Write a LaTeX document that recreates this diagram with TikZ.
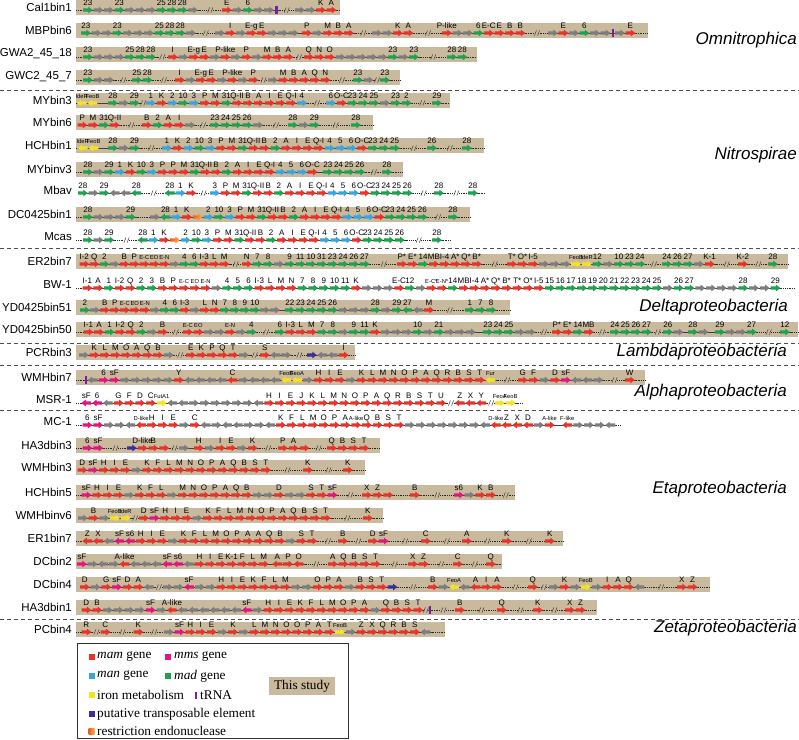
\documentclass[tikz,border=0pt]{standalone}
\usepackage{fontspec}
\setmainfont{Liberation Serif}
\setsansfont{Liberation Sans}
\definecolor{mamred}{HTML}{E8332A}
\definecolor{mmspink}{HTML}{E5157F}
\definecolor{manblue}{HTML}{3AA5DD}
\definecolor{madgreen}{HTML}{1FA150}
\definecolor{othgray}{HTML}{7D7D7D}
\definecolor{ironyel}{HTML}{F7E31B}
\definecolor{trnapur}{HTML}{7B1FA2}
\definecolor{tpblue}{HTML}{3B2E96}
\definecolor{resA}{HTML}{F05A22}
\definecolor{resB}{HTML}{FBB03B}
\definecolor{tanbg}{HTML}{C9B99D}
\tikzset{
 gmam/.style={fill=mamred}, gmms/.style={fill=mmspink}, gman/.style={fill=manblue},
 gmad/.style={fill=madgreen}, goth/.style={fill=othgray}, giron/.style={fill=ironyel},
 gtpe/.style={fill=tpblue}, gres/.style={left color=resA,right color=resB},
 gline/.style={draw=black!75,line width=0.4pt},
 gdots/.style={draw=black!85,line width=0.6pt,dash pattern=on 0.9pt off 0.9pt},
 slashmark/.style={draw=black!75,line width=0.5pt},
 glab/.style={anchor=base,inner sep=0pt,font=\sffamily\fontsize{8}{8.5}\selectfont},
 rowname/.style={anchor=east,inner sep=0pt,font=\sffamily\fontsize{11.5}{13}\selectfont},
 grp/.style={anchor=east,inner sep=0pt,font=\sffamily\itshape\fontsize{17}{20}\selectfont},
 sepline/.style={draw=black!70,line width=0.8pt,dash pattern=on 4pt off 3pt},
 legt/.style={anchor=west,inner sep=0pt,font=\fontsize{13.3}{15}\selectfont},
}
\newcount\gcnt
\xdef\curx{0}\xdef\cury{0}\xdef\gpitch{10.7}
\newcommand\sm{\fontsize{5.8}{6}\selectfont}
\newcommand\gset[3]{\xdef\cury{#1}\xdef\curx{#2}\xdef\gpitch{#3}}
\newcommand\gbar[4]{\fill[tanbg] (#2,#1-10.5) rectangle (#3,#1+4.5);\gname{#1}{#4}}
\newcommand\gname[2]{\global\advance\gcnt by 1\relax\node[rowname] (rn\the\gcnt) at (72,#1-3) {#2};}
\newcommand\ggene[3]{%
 \draw[gline] (\curx,\cury) -- ++(\gpitch,0);
 \path[#1,shift={(\curx+4.75,\cury)},xscale=#2] (-4.75,-1.6) -- (0.6,-1.6) -- (0.6,-3.4) -- (4.9,0) -- (0.6,3.4) -- (0.6,1.6) -- (-4.75,1.6) -- cycle;
 \ifx\relax#3\relax\else\global\advance\gcnt by 1\relax\node[glab] (g\the\gcnt) at (\curx+4.75,\cury-4.7) {#3};\fi
 \pgfmathsetmacro\gtmp{\curx+\gpitch}\xdef\curx{\gtmp}}
\newcommand\gR[1]{\ggene{gmam}{1}{#1}}
\newcommand\gRl[1]{\ggene{gmam}{-1}{#1}}
\newcommand\gG[1]{\ggene{gmad}{1}{#1}}
\newcommand\gGl[1]{\ggene{gmad}{-1}{#1}}
\newcommand\gB[1]{\ggene{gman}{1}{#1}}
\newcommand\gM[1]{\ggene{gmms}{1}{#1}}
\newcommand\gMl[1]{\ggene{gmms}{-1}{#1}}
\newcommand\gY[1]{\ggene{giron}{1}{#1}}
\newcommand\gYl[1]{\ggene{giron}{-1}{#1}}
\newcommand\gO[1]{\ggene{gres}{1}{#1}}
\newcommand\gT[1]{\ggene{gtpe}{1}{#1}}
\newcommand\gX{\ggene{goth}{1}{}}
\newcommand\gXl{\ggene{goth}{-1}{}}
\newcommand\gat[1]{\draw[gline] (\curx,\cury) -- (#1,\cury);\xdef\curx{#1}}
\newcommand\gdt[1]{\draw[gdots] (\curx,\cury) -- (#1,\cury);\xdef\curx{#1}}
\newcommand\gtr{\draw[gline] (\curx,\cury) -- ++(4,0);\fill[trnapur] (\curx+0.7,\cury-3.6) rectangle (\curx+3.2,\cury+3.6);\pgfmathsetmacro\gtmp{\curx+4}\xdef\curx{\gtmp}}
\newcommand\gbrk[1]{%
 \pgfmathsetmacro\bmid{(\curx+#1)/2}%
 \draw[gdots] (\curx,\cury) -- (\bmid-2.6,\cury);
 \draw[gdots] (\bmid+2.6,\cury) -- (#1,\cury);
 \draw[slashmark] (\bmid-2.6,\cury+2.6) -- (\bmid-0.6,\cury-2.6) (\bmid+0.6,\cury+2.6) -- (\bmid+2.6,\cury-2.6);
 \xdef\curx{#1}}
\begin{document}
\begin{tikzpicture}[x=1pt,y=-1pt]
\useasboundingbox (0,0) rectangle (799,739);
\fill[white] (0,0) rectangle (799,739);
% separators
\foreach \yy in {90,248,343,365,410,619} \draw[sepline] (0,\yy) -- (799,\yy);
% group labels
\node[grp] (gOmni) at (797,40) {Omnitrophica};
\node[grp] (gNitro) at (797,155) {Nitrospirae};
\node[grp] (gDelta) at (788,307) {Deltaproteobacteria};
\node[grp] (gLambda) at (787,352) {Lambdaproteobacteria};
\node[grp] (gAlpha) at (787,392) {Alphaproteobacteria};
\node[grp] (gEta) at (787,489) {Etaproteobacteria};
\node[grp] (gZeta) at (797,628) {Zetaproteobacteria};
% Row 1
\gbar{10}{76}{340}{Cal1bin1}
\gset{10}{76}{10.5}\gdt{83}\gG{23}\gX\gX\gG{23}\gX\gX\gX\gG{25}\gG{28}\gG{28}\gX\gbrk{222}\gR{E}\gX\gG{6}\gX\gX\gtr\gbrk{295}\gX\gX\gR{K}\gR{A}\gdt{340}
% Row 2
\gbar{33}{76}{648}{MBPbin6}
\gset{33}{81}{10.5}\gG{23}\gX\gX\gG{23}\gX\gX\gX\gG{25}\gG{28}\gG{28}\gX\gbrk{215}\gX\gR{I}\gX\gR{E-g}\gR{E}\gX\gX\gX\gat{302}\gR{P}\gX\gR{M}\gR{B}\gR{A}\gbrk{372}\gX\gX\gR{K}\gR{A}\gbrk{442}\gR{P-like}\gX\gX\gG{6}\gR{E-C}\gR{E}\gR{B}\gR{B}\gbrk{548}\gX\gR{E}\gX\gG{6}\gX\gX\gtr\gX\gR{E}\gdt{648}
% Row 3
\gbar{57}{76}{477}{GWA2\_45\_18}
\gset{57}{76}{10.5}\gdt{83}\gG{23}\gX\gX\gX\gG{25}\gG{28}\gG{28}\gbrk{168}\gR{I}\gX\gR{E-g}\gR{E}\gX\gR{P-like}\gX\gR{P}\gX\gR{M}\gR{B}\gR{A}\gbrk{304}\gR{Q}\gR{N}\gR{O}\gX\gX\gX\gX\gX\gG{23}\gX\gG{23}\gbrk{447}\gG{28}\gG{28}\gdt{477}
% Row 4
\gbar{80}{76}{400}{GWC2\_45\_7}
\gset{80}{76}{10.5}\gdt{83}\gG{23}\gX\gX\gbrk{132}\gG{25}\gG{28}\gbrk{175}\gR{I}\gX\gR{E-g}\gR{E}\gX\gR{P-like}\gX\gR{P}\gbrk{268}\gX\gR{M}\gR{B}\gR{A}\gR{Q}\gR{N}\gbrk{353}\gG{23}\gX\gbrk{380}\gG{23}\gdt{400}
% Row 5
\gbar{103}{76}{450}{MYbin3}
\gset{103}{76}{10.8}\gdt{77}\gYl{\sm IdeR}\gYl{\sm FeoB}\gat{108}\gG{28}\gX\gG{29}\gbrk{146}\gB{1}\gR{K}\gB{2}\gG{10}\gB{3}\gR{P}\gR{M}\gG{31}\gR{Q-II}\gR{B}\gR{A}\gR{I}\gR{E}\gR{Q-I}\gB{4}\gbrk{326}\gB{6}\gR{O-C}\gG{23}\gG{24}\gG{25}\gX\gG{23}\gG{2}\gbrk{432}\gG{29}\gdt{450}
% Row 6
\gbar{125}{76}{373}{MYbin6}
\gset{125}{77.5}{10.8}\gR{P}\gR{M}\gG{31}\gR{Q-II}\gbrk{142}\gR{B}\gG{2}\gR{A}\gR{I}\gX\gbrk{210}\gG{23}\gG{24}\gG{25}\gG{26}\gX\gbrk{288}\gG{28}\gX\gG{29}\gbrk{351}\gG{28}\gdt{373}
% Row 7
\gbar{148}{76}{484}{HCHbin1}
\gset{148}{76}{10.85}\gdt{78}\gYl{\sm IdeR}\gYl{\sm FeoB}\gat{108}\gG{28}\gX\gG{29}\gbrk{162}\gB{1}\gR{K}\gB{2}\gG{10}\gB{3}\gR{P}\gR{M}\gG{31}\gR{Q-II}\gR{B}\gG{2}\gR{A}\gR{I}\gR{E}\gR{Q-I}\gB{4}\gB{5}\gB{6}\gR{O-C}\gG{23}\gG{24}\gG{25}\gbrk{427}\gG{26}\gbrk{462}\gG{28}\gdt{484}
% Row 8
\gbar{172}{76}{403}{MYbinv3}
\gset{172}{76}{10.7}\gdt{83}\gG{28}\gX\gG{29}\gB{1}\gR{K}\gG{10}\gB{3}\gR{P}\gR{P}\gR{M}\gG{31}\gR{Q-II}\gR{B}\gG{2}\gR{A}\gR{I}\gR{E}\gR{Q-I}\gB{4}\gB{5}\gB{6}\gR{O-C}\gat{323}\gG{23}\gG{24}\gG{25}\gG{26}\gbrk{382}\gG{28}\gdt{403}
% Row 9
\gname{193}{Mbav}
\gset{193}{78}{10.7}\gG{28}\gX\gG{29}\gXl\gXl\gGl{28}\gbrk{165}\gGl{28}\gB{1}\gR{K}\gbrk{210}\gB{3}\gR{P}\gR{M}\gG{31}\gR{Q-II}\gR{B}\gG{2}\gR{A}\gR{I}\gR{E}\gR{Q-I}\gB{4}\gB{5}\gB{6}\gR{O-C}\gG{23}\gG{24}\gG{25}\gG{26}\gbrk{434}\gG{28}\gbrk{468}\gG{28}\gdt{485}
% Row 10
\gbar{217}{76}{470}{DC0425bin1}
\gset{217}{76}{10.7}\gdt{83}\gG{28}\gX\gX\gX\gG{29}\gdt{150}\gX\gGl{28}\gB{1}\gR{K}\gO{}\gB{2}\gG{10}\gB{3}\gR{P}\gR{M}\gG{31}\gR{Q-II}\gR{B}\gG{2}\gR{A}\gR{I}\gR{E}\gR{Q-I}\gB{4}\gB{5}\gB{6}\gR{O-C}\gG{23}\gG{24}\gG{25}\gG{26}\gbrk{448}\gG{28}\gdt{470}
% Row 11
\gname{240}{Mcas}
\gset{240}{76}{10.7}\gdt{83}\gG{28}\gX\gG{29}\gbrk{138}\gGl{28}\gB{1}\gR{K}\gO{}\gB{2}\gG{10}\gB{3}\gR{P}\gR{M}\gG{31}\gR{Q-II}\gR{B}\gG{2}\gR{A}\gR{I}\gR{E}\gR{Q-I}\gB{4}\gB{5}\gB{6}\gR{O-C}\gG{23}\gG{24}\gG{25}\gG{26}\gbrk{432}\gG{28}\gdt{450}
% Row 12
\gbar{264}{76}{788}{ER2bin7}
\gset{264}{79.5}{10}\gR{I-2}\gR{Q}\gG{2}\gX\gR{B}\gR{P}\gR{\sm E-C}\gR{\sm EO}\gR{\sm E-N}\gX\gG{4}\gG{6}\gR{I-3}\gR{L}\gR{M}\gbrk{242}\xdef\gpitch{10.7}\gR{N}\gG{7}\gG{8}\gX\gG{9}\gG{11}\gG{10}\gG{31}\gG{23}\gG{24}\gG{26}\gG{27}\gbrk{397}\gR{P*}\gR{E*}\gG{14}\gR{MB}\gR{I-4}\gR{A*}\gR{Q*}\gR{B*}\gbrk{507}\gR{T*}\gR{O*}\gR{I-5}\gX\gX\gX\gY{\sm FeoB}\gY{\sm IdeR}\gG{12}\gX\gG{10}\gG{23}\gG{24}\gbrk{662}\gG{24}\gG{26}\gG{27}\gX\gR{K-1}\gbrk{738}\gR{K-2}\gbrk{768}\gG{28}\gdt{788}
% Row 13
\gname{288}{BW-1}
\gset{288}{76}{10.75}\gdt{82.6}\gR{I-1}\gR{A}\gG{1}\gR{I-2}\gR{Q}\gG{2}\gG{3}\gR{B}\gR{P}\gR{\sm E-C}\gR{\sm EO}\gR{\sm E-N}\gX\gG{4}\gG{5}\gG{6}\gR{I-3}\gR{L}\gR{M}\gR{N}\gG{7}\gG{8}\gG{9}\gG{10}\gG{11}\gR{K}\gX\gX\gX\gR{E-C}\gG{12}\gX\gR{\sm E-C*}\gR{\sm E-N*}\gG{14}\gR{MB}\gR{I-4}\gR{A*}\gR{Q*}\gR{B*}\gR{T*}\gR{O*}\gR{I-5}\gG{15}\gG{16}\gG{17}\gG{18}\gG{19}\gG{20}\gG{21}\gG{22}\gG{23}\gG{24}\gG{25}\gX\gG{26}\gG{27}\gX\gX\gX\gX\gG{28}\gX\gX\gG{29}\gdt{795}
% Row 14
\gbar{310}{76}{510}{YD0425bin51}
\gset{310}{80}{10}\gG{2}\gX\gR{B}\gR{P}\gR{\sm E-C}\gR{\sm EO}\gR{\sm E-N}\gX\gG{4}\gG{6}\gR{I-3}\gX\gR{L}\gR{N}\gG{7}\gG{8}\gG{9}\gG{10}\gX\gX\gat{285}\xdef\gpitch{10.7}\gG{22}\gG{23}\gG{24}\gG{25}\gG{26}\gX\gX\gX\gG{28}\gX\gG{29}\gGl{27}\gXl\gR{M}\gbrk{465}\gG{1}\gG{7}\gG{8}\gdt{510}
% Row 15
\gbar{332}{76}{798}{YD0425bin50}
\gset{332}{76}{10.6}\gdt{83.6}\gR{I-1}\gR{A}\gG{1}\gR{I-2}\gR{Q}\gG{2}\gX\gR{B}\gbrk{183}\gR{\sm E-C}\gR{\sm EO}\gX\gX\gR{\sm E-N}\gX\gG{4}\gbrk{275}\gG{6}\gR{I-3}\gR{L}\gR{M}\gG{7}\gG{8}\gX\gG{9}\gG{11}\gR{K}\gX\gX\gX\gG{10}\gX\gG{21}\gX\gX\gX\gat{483}\gG{23}\gG{24}\gG{25}\gX\gX\gbrk{552}\gR{P*}\gR{E*}\gG{14}\gR{MB}\gbrk{610}\gG{24}\gG{25}\gG{26}\gG{27}\gbrk{663}\gG{26}\gX\gat{688}\gG{28}\gX\gat{715}\gG{29}\gX\gX\gG{27}\gbrk{780}\gG{12}\gdt{798}
% Row 16
\gbar{355}{76}{355}{PCRbin3}
\gset{355}{79}{10.6}\gX\gR{K}\gR{L}\gR{M}\gR{O}\gR{A}\gR{Q}\gR{B}\gX\gbrk{186}\gR{E}\gR{K}\gR{P}\gR{Q}\gR{T}\gX\gbrk{260}\gR{S}\gXl\gX\gbrk{307}\gT{}\gXl\gXl\gR{I}\gdt{355}
% Row 17
\gbar{380}{76}{645}{WMHbin7}
\gset{380}{76}{10.75}\gdt{84}\gtr\gXl\gM{6}\gM{sF}\gX\gX\gX\gX\gX\gR{Y}\gXl\gXl\gXl\gXl\gRl{C}\gX\gXl\gXl\gXl\gYl{\sm FeoB}\gYl{\sm FeoA}\gX\gR{H}\gR{I}\gR{E}\gX\gR{K}\gR{L}\gR{M}\gR{N}\gR{O}\gR{P}\gR{A}\gR{Q}\gR{R}\gR{B}\gR{S}\gR{T}\gYl{\sm Fur}\gbrk{518}\gR{G}\gR{F}\gX\gR{D}\gM{sF}\gXl\gXl\gX\gbrk{625}\gR{W}\gdt{645}
% Row 18
\gname{403}{MSR-1}
\gset{403}{76}{10.75}\gdt{81.6}\gMl{sF}\gMl{6}\gXl\gR{G}\gR{F}\gR{D}\gR{C}\gY{\sm FutA1}\gXl\gXl\gX\gX\gX\gX\gX\gX\gXl\gR{H}\gR{I}\gR{E}\gR{J}\gR{K}\gR{L}\gR{M}\gR{N}\gR{O}\gR{P}\gR{A}\gR{Q}\gR{R}\gR{B}\gR{S}\gR{T}\gR{U}\gbrk{455}\gRl{Z}\gRl{X}\gRl{Y}\gbrk{495}\gY{\sm FeoA}\gY{\sm FeoB}\gdt{523}
% Row 19
\gname{425}{MC-1}
\gset{425}{76}{10.75}\gdt{82.6}\gM{6}\gM{sF}\gX\gX\gXl\gRl{\sm D-like}\gR{H}\gR{I}\gR{E}\gX\gR{C}\gXl\gX\gXl\gXl\gX\gX\gXl\gR{K}\gR{F}\gR{L}\gR{M}\gR{O}\gR{P}\gR{A}\gR{\sm A-like}\gR{Q}\gR{B}\gR{S}\gR{T}\gX\gX\gX\gX\gX\gX\gX\gXl\gRl{\sm D-like}\gRl{Z}\gRl{X}\gRl{D}\gX\gR{\sm A-like}\gat{562.5}\gRl{\sm F-like}\gX\gX\gX\gXl\gdt{620}
% Row 20
\gbar{448}{76}{380}{HA3dbin3}
\gset{448}{76}{10.75}\gdt{82.6}\gM{6}\gM{sF}\gbrk{127}\gT{}\gR{D-like}\gR{B}\gR{}\gbrk{179}\gX\gat{194}\gR{H}\gX\gR{I}\gR{E}\gX\gR{K}\gbrk{278}\gR{P}\gR{A}\gR{}\gbrk{327}\gR{Q}\gR{B}\gR{S}\gR{T}\gdt{380}
% Row 21
\gbar{470}{76}{365}{WMHbin3}
\gset{470}{77.5}{10.8}\gR{D}\gM{sF}\gR{H}\gR{I}\gR{E}\gX\gR{K}\gR{F}\gR{L}\gR{M}\gR{N}\gR{O}\gR{P}\gR{A}\gR{Q}\gR{B}\gR{S}\gR{T}\gbrk{303}\gR{K}\gbrk{343}\gR{K}\gdt{365}
% Row 22
\gbar{495}{76}{515}{HCHbin5}
\gset{495}{76}{10.7}\gdt{81.6}\gM{sF}\gR{H}\gR{I}\gR{E}\gX\gR{K}\gR{F}\gR{L}\gX\gR{M}\gR{N}\gR{O}\gR{P}\gR{A}\gR{Q}\gR{B}\gX\gX\gR{D}\gX\gX\gR{S}\gR{T}\gM{sF}\gbrk{362}\gR{X}\gR{Z}\gR{}\gdt{410}\gR{B}\gbrk{454}\gM{s6}\gX\gR{K}\gR{B}\gbrk{515}
% Row 23
\gbar{518}{76}{383}{WMHbinv6}
\gset{518}{78}{10.7}\gX\gR{B}\gX\gY{\sm FeoB}\gY{\sm IdeR}\gbrk{139}\gR{D}\gM{sF}\gR{H}\gR{I}\gR{E}\gX\gR{K}\gR{F}\gR{L}\gR{M}\gR{N}\gR{O}\gR{P}\gR{A}\gR{Q}\gR{B}\gR{S}\gR{T}\gbrk{363}\gR{K}\gdt{383}
% Row 24
\gbar{541}{76}{563}{ER1bin7}
\gset{541}{76}{10.7}\gdt{82.6}\gRl{Z}\gRl{X}\gXl\gMl{sF}\gMl{s6}\gR{H}\gR{I}\gR{E}\gX\gR{K}\gR{F}\gR{L}\gR{M}\gR{O}\gR{P}\gR{A}\gR{A}\gR{Q}\gR{B}\gX\gR{S}\gR{T}\gbrk{338}\gR{B}\gbrk{368}\gR{D}\gM{sF}\gbrk{421}\gR{C}\gbrk{462}\gR{A}\gbrk{502}\gR{K}\gbrk{545}\gR{K}\gdt{563}
% Row 25
\gbar{564}{76}{502}{DCbin2}
\gset{564}{77}{10.7}\gM{sF}\gX\gXl\gX\gRl{A-like}\gXl\gXl\gXl\gMl{sF}\gMl{s6}\gXl\gR{H}\gR{I}\gR{E}\gR{K-1}\gR{F}\gR{L}\gR{M}\gat{272.5}\gRl{A}\gR{P}\gRl{O}\gbrk{328}\gR{A}\gR{Q}\gR{B}\gR{S}\gR{T}\gbrk{408}\gR{X}\gR{Z}\gbrk{453}\gR{C}\gbrk{486}\gR{Q}\gdt{502}
% Row 26
\gbar{587}{76}{710}{DCbin4}
\gset{587}{80}{10.7}\gR{D}\gX\gR{G}\gM{sF}\gR{D}\gR{A}\gXl\gbrk{163}\gX\gX\gMl{sF}\gX\gX\gR{H}\gR{I}\gR{E}\gR{K}\gR{F}\gR{L}\gR{M}\gX\gX\gR{O}\gR{P}\gR{A}\gX\gR{B}\gR{S}\gR{T}\gT{}\gbrk{428}\gR{B}\gX\gYl{\sm FeoA}\gXl\gRl{A}\gR{I}\gR{A}\gbrk{528}\gR{Q}\gbrk{549}\gX\gR{K}\gX\gY{\sm FeoB}\gX\gR{I}\gR{A}\gR{Q}\gXl\gbrk{677}\gR{X}\gR{Z}\gdt{710}
% Row 27
\gbar{610}{76}{597}{HA3dbin1}
\gset{610}{81.6}{10.7}\gR{D}\gR{B}\gX\gX\gX\gX\gM{sF}\gX\gRl{A-like}\gXl\gXl\gXl\gXl\gXl\gXl\gMl{sF}\gX\gR{H}\gR{I}\gR{E}\gR{K}\gR{F}\gR{L}\gR{M}\gR{O}\gR{P}\gR{A}\gX\gR{Q}\gR{B}\gR{S}\gR{T}\gbrk{428}\gtr\gbrk{455}\gR{B}\gbrk{497}\gR{Q}\gbrk{533}\gR{K}\gbrk{565}\gR{X}\gR{Z}\gdt{597}
% Row 28
\gbar{632}{76}{445}{PCbin4}
\gset{632}{76}{10.7}\gdt{81.6}\gR{R}\gbrk{100.6}\gR{C}\gbrk{133.6}\gR{K}\gbrk{164}\gX\gM{sF}\gR{H}\gR{I}\gR{E}\gX\gR{K}\gX\gR{L}\gR{M}\gR{N}\gR{O}\gR{O}\gR{P}\gR{A}\gR{T}\gY{\sm FeoB}\gX\gR{Z}\gR{X}\gR{Q}\gR{R}\gR{B}\gR{S}\gXl\gdt{445}
% Legend
\draw[draw=black!80,line width=0.7pt] (77,643) rectangle (348,738);
\fill[mamred] (88.5,654) rectangle (94.5,660);
\node[legt] (lmam) at (97,657) {\textit{mam} gene};
\fill[mmspink] (165,654) rectangle (171,660);
\node[legt] (lmms) at (174,657) {\textit{mms} gene};
\fill[manblue] (88.5,673) rectangle (94.5,679);
\node[legt] (lman) at (97,676) {\textit{man} gene};
\fill[madgreen] (165,673) rectangle (171,679);
\node[legt] (lmad) at (174,676) {\textit{mad} gene};
\fill[ironyel] (88.5,692) rectangle (94.5,698);
\node[legt] (liron) at (97,695) {iron metabolism};
\fill[trnapur] (194.5,691.5) rectangle (197,698.5);
\node[legt] (ltrna) at (200,695) {tRNA};
\fill[tpblue] (88.5,711) rectangle (94.5,717);
\node[legt] (ltpe) at (97,714) {putative transposable element};
\shade[left color=resA,right color=resB] (88.5,728) rectangle (94.5,734);
\node[legt] (lres) at (97,731) {restriction endonuclease};
\fill[tanbg] (269,677) rectangle (335,695);
\node[inner sep=0pt,font=\fontsize{13.3}{15}\selectfont] (lstudy) at (302,686) {This study};
\end{tikzpicture}
\end{document}
